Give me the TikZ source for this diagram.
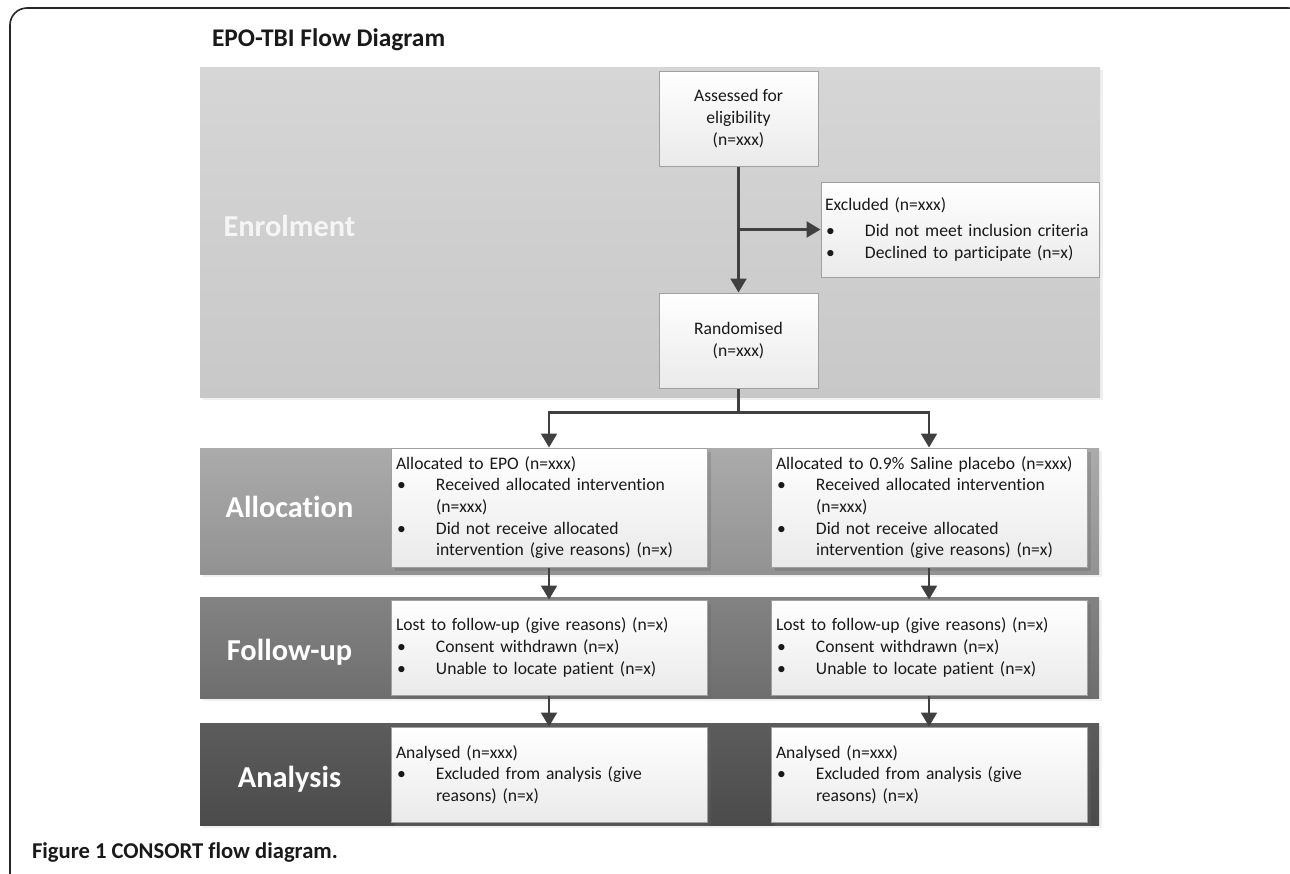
\documentclass[tikz,border=0pt]{standalone}
\usepackage{fontspec}
\setmainfont{Carlito}[Ligatures={NoCommon}]
\usetikzlibrary{arrows.meta,shadows,calc}
\definecolor{arrowc}{HTML}{404040}
\definecolor{boxborder}{HTML}{A0A0A0}
\definecolor{boxbot}{HTML}{EAEAEA}
\definecolor{enrT}{HTML}{D6D6D6}
\definecolor{enrB}{HTML}{C8C8C8}
\definecolor{allT}{HTML}{ABABAB}
\definecolor{allB}{HTML}{929292}
\definecolor{fuT}{HTML}{838383}
\definecolor{fuB}{HTML}{6E6E6E}
\definecolor{anT}{HTML}{5C5C5C}
\definecolor{anB}{HTML}{4B4B4B}
\newcommand{\bulitem}[1]{\makebox[20pt][l]{\hspace{0.5pt}\textbullet}#1}
\newcommand{\contline}[1]{\hspace*{20pt}#1}
\begin{document}
\begin{tikzpicture}[x=0.5pt,y=-0.5pt,
  txt/.style={font=\fontsize{8.8}{10.85}\selectfont, text=black!90},
  box/.style={draw=boxborder, line width=0.5pt, top color=white, bottom color=boxbot, txt, inner xsep=2.5pt, inner ysep=0pt},
  cbox/.style={box, align=center, minimum width=79.5pt, minimum height=47.5pt},
  lbox/.style={box, align=left, text width=153pt, minimum width=158pt},
  shd/.style={drop shadow={shadow xshift=2pt, shadow yshift=-2pt, opacity=0.3, fill=black!60}},
  bandshd/.style={drop shadow={shadow xshift=1.5pt, shadow yshift=-1.5pt, opacity=0.12}},
  lab/.style={anchor=base, text=white, font=\fontsize{15.2}{18}\selectfont\bfseries},
  arr/.style={draw=arrowc, line width=1.15pt, -{Triangle[width=8pt,length=7pt]}},
  ln/.style={draw=arrowc, line width=1.15pt}
]
\useasboundingbox (0,0) rectangle (1290,873);
\begin{scope}
\clip (0,0) rectangle (1290,873);
\draw[line width=0.8pt, draw=black!85, rounded corners=8.5pt] (10,8) rectangle (1305,900);
\end{scope}

% title and caption
\node[anchor=base west, font=\fontsize{12.7}{15}\selectfont\bfseries, text=black!90] (title) at (205,46.7) {EPO-TBI Flow Diagram};
\node[anchor=base west, font=\fontsize{11.3}{13}\selectfont\bfseries, text=black!90] (caption) at (25,858) {Figure 1 CONSORT flow diagram.};

% bands
\fill[top color=enrT, bottom color=enrB, bandshd] (200,67) rectangle (1100,397);
\fill[top color=allT, bottom color=allB, bandshd] (200,448) rectangle (1099,574);
\fill[top color=fuT, bottom color=fuB, bandshd] (200,597) rectangle (1099,698);
\fill[top color=anT, bottom color=anB, bandshd] (200,723) rectangle (1099,825);

\node[lab, text=white!96!black] (labE) at (289.5,236.7) {Enrolment};
\node[lab] (labA) at (289.5,517.3) {Allocation};
\node[lab] (labF) at (289.5,660) {Follow-up};
\node[lab] (labN) at (289.5,787) {Analysis};

% enrolment boxes
\node[cbox] (ass) at (738.5,118.5) {Assessed for\\eligibility\\(n=xxx)};
\node[box, align=left, text width=135pt, minimum width=139pt, minimum height=47.5pt, inner xsep=2pt] (exc) at (960,229.5)
  {Excluded (n=xxx)\\[2pt]\bulitem{Did not meet inclusion criteria}\\\bulitem{Declined to participate (n=x)}};
\node[cbox] (rand) at (738.5,340.5) {Randomised\\(n=xxx)};

% allocation
\node[lbox, shd, minimum height=59.5pt] (al1) at (549,507.5)
  {Allocated to EPO (n=xxx)\\\bulitem{Received allocated intervention}\\\contline{(n=xxx)}\\\bulitem{Did not receive allocated}\\\contline{intervention (give reasons) (n=x)}};
\node[lbox, shd, minimum height=59.5pt] (al2) at (929,507.5)
  {Allocated to 0.9\% Saline placebo (n=xxx)\\\bulitem{Received allocated intervention}\\\contline{(n=xxx)}\\\bulitem{Did not receive allocated}\\\contline{intervention (give reasons) (n=x)}};

% follow-up
\node[lbox, shd, minimum height=47.5pt] (fu1) at (549,647.5)
  {Lost to follow-up (give reasons) (n=x)\\\bulitem{Consent withdrawn (n=x)}\\\bulitem{Unable to locate patient (n=x)}};
\node[lbox, shd, minimum height=47.5pt] (fu2) at (929,647.5)
  {Lost to follow-up (give reasons) (n=x)\\\bulitem{Consent withdrawn (n=x)}\\\bulitem{Unable to locate patient (n=x)}};

% analysis
\node[lbox, shd, minimum height=47.5pt] (an1) at (549,774.5)
  {Analysed (n=xxx)\\\bulitem{Excluded from analysis (give}\\\contline{reasons) (n=x)}};
\node[lbox, shd, minimum height=47.5pt] (an2) at (929,774.5)
  {Analysed (n=xxx)\\\bulitem{Excluded from analysis (give}\\\contline{reasons) (n=x)}};

% connectors
\draw[arr] (ass.south) -- (rand.north);
\draw[arr] (ass.south |- exc.west) -- (exc.west);
\coordinate (split) at ($(rand.south)+(0,24)$);
\draw[ln] (rand.south) -- (split);
\draw[arr] (split) -| (al1.north);
\draw[arr] (split) -| (al2.north);
\draw[arr] (al1.south) -- (fu1.north);
\draw[arr] (al2.south) -- (fu2.north);
\draw[arr] (fu1.south) -- (an1.north);
\draw[arr] (fu2.south) -- (an2.north);
\end{tikzpicture}
\end{document}
